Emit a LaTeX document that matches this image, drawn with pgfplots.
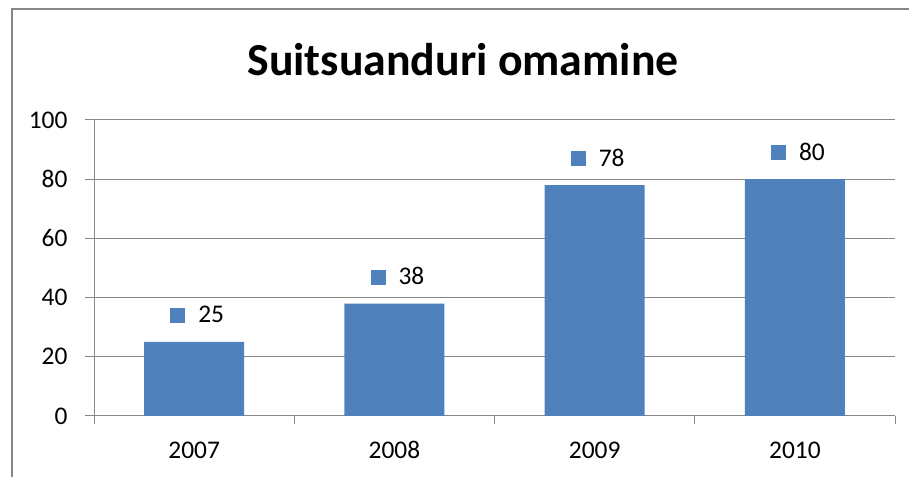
\documentclass[border=0pt]{standalone}
\usepackage{pgfplots}
\pgfplotsset{compat=1.18}
\usepackage{fontspec}
\setmainfont{Carlito}
\definecolor{barblue}{HTML}{4F81BD}
\definecolor{axgray}{HTML}{868686}
\begin{document}
\begin{tikzpicture}[x=1bp,y=1bp]
\useasboundingbox (0,0) rectangle (909,477);
\draw[axgray, line width=2bp] (11.5,-5) -- (11.5,467.5) -- (915,467.5);
\node[anchor=base, inner sep=0pt, font=\fontsize{46}{50}\selectfont\bfseries] at (463,401) {Suitsuanduri omamine};
\begin{axis}[
  at={(94bp,61bp)}, anchor=south west, scale only axis,
  width=801bp, height=296bp,
  ybar, bar width=0.5,
  xmin=-0.5, xmax=3.5, ymin=0, ymax=100,
  ytick={0,20,40,60,80,100},
  xtick={0,1,2,3}, xticklabels={2007,2008,2009,2010},
  minor xtick={-0.5,0.5,1.5,2.5,3.5},
  axis x line*=bottom, axis y line*=left,
  axis line style={axgray, line width=1bp, -},
  tick align=outside,
  major tick length=9bp, minor tick length=8bp,
  major x tick style={draw=none},
  minor x tick style={axgray, line width=1bp},
  major y tick style={axgray, line width=1bp},
  ymajorgrids, major grid style={axgray, line width=1bp},
  /pgf/number format/assume math mode=true,
  tick label style={font=\fontsize{25.5}{30}\selectfont, text=black},
  yticklabel style={xshift=-14bp},
  xticklabel style={yshift=-13bp},
  nodes near coords={\textcolor{barblue}{\rule{15bp}{15bp}}\hspace{13bp}\pgfmathprintnumber{\pgfplotspointmeta}},
  every node near coord/.append style={anchor=base, yshift=19bp, xshift=3bp, inner sep=0pt, font=\fontsize{25.5}{30}\selectfont, text=black},
]
\addplot[fill=barblue, draw=none] coordinates {(0,25) (1,38) (2,78) (3,80)};
\end{axis}
\end{tikzpicture}
\end{document}
